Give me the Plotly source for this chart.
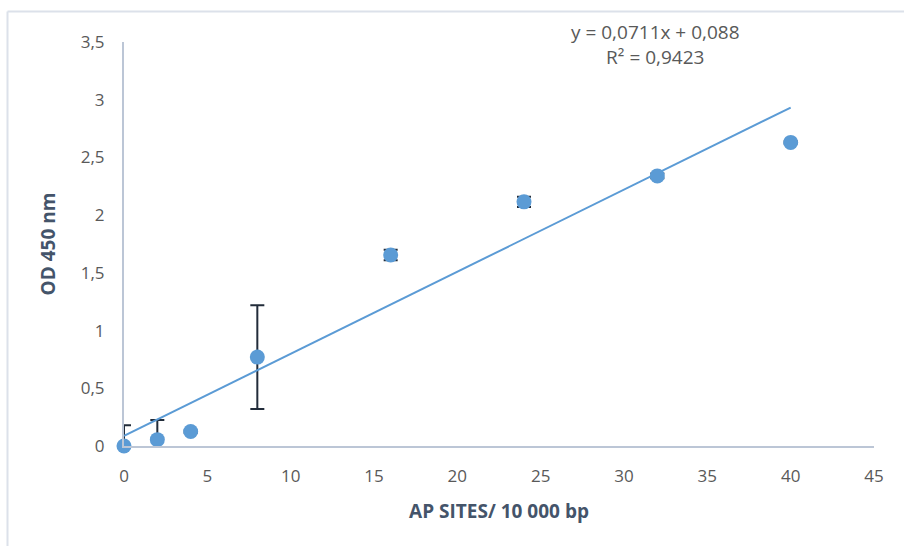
import plotly.graph_objects as go

# AP sites per 10 000 bp vs. optical density at 450 nm
ap_sites = [0, 2, 4, 8, 16, 24, 32, 40]
od_450 = [0.0, 0.055, 0.125, 0.77, 1.655, 2.115, 2.34, 2.63]
od_err = [0.18, 0.17, 0.01, 0.45, 0.045, 0.045, 0.02, 0.01]

# linear trendline coefficients
slope = 0.0711
intercept = 0.088
r_squared = 0.9423

x_ticks = [0, 5, 10, 15, 20, 25, 30, 35, 40, 45]
y_ticks = [0, 0.5, 1, 1.5, 2, 2.5, 3, 3.5]

FONT = "Open Sans"
BLUE = "#5B9BD5"
AXIS = "#BCC6D6"
TICK_TXT = "#595959"
TITLE_TXT = "#44546A"

fig = go.Figure()

# error bars (clipped to the plot area)
fig.add_trace(go.Scatter(
    x=ap_sites, y=od_450, mode="markers",
    marker=dict(size=1, color="rgba(0,0,0,0)"),
    error_y=dict(type="data", array=od_err, visible=True,
                 color="#222C3A", thickness=2, width=7),
    cliponaxis=True, showlegend=False, hoverinfo="skip",
))

# trendline
trend_x = [min(ap_sites), max(ap_sites)]
trend_y = [slope * v + intercept for v in trend_x]
fig.add_trace(go.Scatter(
    x=trend_x, y=trend_y, mode="lines",
    line=dict(color=BLUE, width=2), showlegend=False,
))

# data points
fig.add_trace(go.Scatter(
    x=ap_sites, y=od_450, mode="markers",
    marker=dict(size=15, color=BLUE),
    cliponaxis=False, showlegend=False,
))

def fmt(v, nd):
    return f"{v:.{nd}f}".replace(".", ",")

# chart frame geometry (pixels)
W, H = 904, 546
L, R, T, B = 124, 30, 42, 100
pw, ph = W - L - R, H - T - B
def px(xp):
    return (xp - L) / pw
def py(yp):
    return (H - B - yp) / ph

fig.add_annotation(
    xref="paper", yref="paper", x=px(655), y=py(44),
    text=f"y = {fmt(slope, 4)}x + {fmt(intercept, 3)}<br>R² = {fmt(r_squared, 4)}",
    showarrow=False, align="center", xanchor="center", yanchor="middle",
    font=dict(family=FONT, size=19, color=TICK_TXT),
)

frame = dict(color="#DCE1EA", width=2)
fig.add_shape(type="line", xref="paper", yref="paper",
              x0=px(7.5), y0=py(546), x1=px(7.5), y1=py(11.5), line=frame)
fig.add_shape(type="line", xref="paper", yref="paper",
              x0=px(7.5), y0=py(11.5), x1=px(904), y1=py(11.5), line=frame)

fig.update_layout(
    width=W, height=H,
    margin=dict(l=L, r=R, t=T, b=B),
    paper_bgcolor="white", plot_bgcolor="white",
    separators=", ",
    font=dict(family=FONT, color=TICK_TXT),
)
fig.update_xaxes(
    range=[0, 45], tickvals=x_ticks, showgrid=False, zeroline=False,
    showline=True, linecolor=AXIS, linewidth=2,
    ticks="outside", ticklen=14, tickcolor="rgba(0,0,0,0)",
    tickfont=dict(family=FONT, size=17, color=TICK_TXT),
    title=dict(text="<b>AP SITES/ 10 000 bp</b>", standoff=18,
               font=dict(family=FONT, size=19, color=TITLE_TXT)),
)
fig.update_yaxes(
    range=[0, 3.5], tickvals=y_ticks, showgrid=False, zeroline=False,
    showline=True, linecolor=AXIS, linewidth=2,
    ticks="outside", ticklen=14, tickcolor="rgba(0,0,0,0)",
    tickfont=dict(family=FONT, size=17, color=TICK_TXT),
    title=dict(text="<b>OD 450 nm</b>", standoff=20,
               font=dict(family=FONT, size=19, color=TITLE_TXT)),
)

fig.write_html("out.html")
